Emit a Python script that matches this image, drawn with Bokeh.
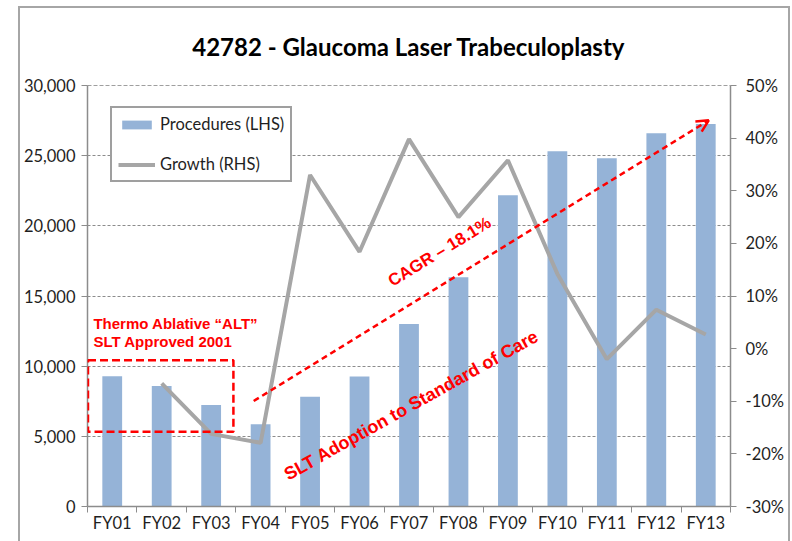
from bokeh.plotting import figure
from bokeh.models import (Range1d, LinearAxis, FixedTicker, NumeralTickFormatter,
                          BoxAnnotation, Arrow, OpenHead, Legend, LegendItem,
                          ColumnDataSource, Span)
from bokeh.core.properties import value
from bokeh.embed import file_html
from bokeh.resources import INLINE

# ---------------- data ----------------
categories = ["FY01", "FY02", "FY03", "FY04", "FY05", "FY06", "FY07",
              "FY08", "FY09", "FY10", "FY11", "FY12", "FY13"]
procedures = [9290, 8580, 7230, 5860, 7820, 9270, 13000,
              16330, 22180, 25320, 24820, 26600, 27260]
growth_categories = categories[1:]
growth = [-0.066, -0.162, -0.179, 0.33, 0.184, 0.398,
          0.25, 0.358, 0.142, -0.02, 0.074, 0.027]
left_ticks = [0, 5000, 10000, 15000, 20000, 25000, 30000]
right_ticks = [-0.3, -0.2, -0.1, 0.0, 0.1, 0.2, 0.3, 0.4, 0.5]

pos = {c: i + 1 for i, c in enumerate(categories)}
bar_src = ColumnDataSource(dict(x=[pos[c] for c in categories], top=procedures))
line_src = ColumnDataSource(dict(x=[pos[c] for c in growth_categories], y=growth))

FONT = "Lato"
TXT = "#1F1F1F"
AXC = "#8C8C8C"
FS = "16.5px"

p = figure(width=772, height=535, output_backend="svg", toolbar_location=None,
           x_range=Range1d(0.5, len(categories) + 0.5),
           y_range=Range1d(0, 30000),
           min_border_left=62, min_border_right=62,
           min_border_top=75, min_border_bottom=37)
p.margin = (6, 0, 0, 18)
p.styles = {"border-top": "2px solid #A6A6A6", "border-left": "2px solid #A6A6A6",
            "border-right": "2px solid #A6A6A6"}
p.outline_line_color = None
p.background_fill_color = "white"
p.border_fill_color = "white"

# title
p.title.text = "42782 - Glaucoma Laser Trabeculoplasty"
p.title.text_font = FONT
p.title.text_font_size = "24px"
p.title.text_font_style = "bold"
p.title.text_color = "#000000"
p.title.align = "center"
p.title.vertical_align = "top"
p.title.standoff = 46

# grid
p.xgrid.grid_line_color = None
p.ygrid.ticker = FixedTicker(ticks=left_ticks[:-1])
p.ygrid.grid_line_color = "#8C8C8C"
p.ygrid.grid_line_dash = "3 2"
p.ygrid.grid_line_width = 1
p.add_layout(Span(location=left_ticks[-1], dimension="width",
                  line_color="#404040", line_width=1, line_dash="4 2"))

# left axis
ya = p.yaxis[0]
ya.ticker = FixedTicker(ticks=left_ticks)
ya.formatter = NumeralTickFormatter(format="0,0")
ya.axis_line_color = AXC
ya.axis_line_width = 1.5
ya.major_tick_line_color = AXC
ya.major_tick_in = 0
ya.major_tick_out = 6
ya.minor_tick_line_color = None
ya.major_label_text_font = FONT
ya.major_label_text_font_size = FS
ya.major_label_text_color = TXT
ya.major_label_standoff = 6

# right axis
p.extra_y_ranges = {"pct": Range1d(-0.3, 0.5)}
ra = LinearAxis(y_range_name="pct", ticker=FixedTicker(ticks=right_ticks),
                formatter=NumeralTickFormatter(format="0%"))
ra.axis_line_color = AXC
ra.axis_line_width = 1.5
ra.major_tick_line_color = AXC
ra.major_tick_in = 0
ra.major_tick_out = 6
ra.minor_tick_line_color = None
ra.major_label_text_font = FONT
ra.major_label_text_font_size = FS
ra.major_label_text_color = TXT
ra.major_label_standoff = 9
p.add_layout(ra, "right")

# x axis: labels at centres, ticks between categories
xa = p.xaxis[0]
xa.ticker = FixedTicker(ticks=[pos[c] for c in categories],
                        minor_ticks=[pos[c] - 0.5 for c in categories] + [len(categories) + 0.5])
xa.major_label_overrides = {pos[c]: c for c in categories}
xa.major_tick_line_color = None
xa.minor_tick_line_color = AXC
xa.minor_tick_in = 0
xa.minor_tick_out = 6
xa.axis_line_color = AXC
xa.axis_line_width = 1.5
xa.major_label_text_font = FONT
xa.major_label_text_font_size = FS
xa.major_label_text_color = TXT
xa.major_label_standoff = 0

# glyphs
bars = p.vbar(x="x", top="top", width=0.4, source=bar_src,
              fill_color="#95B3D7", line_color=None)
ln = p.line(x="x", y="y", source=line_src, y_range_name="pct",
            line_color="#A6A6A6", line_width=4)

# legend
legend = Legend(items=[LegendItem(label="Procedures (LHS)", renderers=[bars]),
                       LegendItem(label="Growth (RHS)", renderers=[ln])],
                location=(23, 324))
legend.label_text_font = FONT
legend.label_text_font_size = FS
legend.label_text_color = TXT
legend.glyph_width = 37
legend.glyph_height = 11
legend.label_height = 20
legend.spacing = 20
legend.padding = 6
legend.label_standoff = 5
legend.border_line_color = "#404040"
legend.border_line_width = 2
legend.background_fill_alpha = 1
legend.margin = 0
p.add_layout(legend, "center")

# annotations
RED = "#FF0000"
p.add_layout(BoxAnnotation(left=0.51, right=3.45, bottom=5320, top=10430,
                           fill_alpha=0, line_color=RED, line_alpha=1.0,
                           line_width=2.5, line_dash="8 4"))
p.add_layout(Arrow(end=OpenHead(line_color=RED, line_width=2.5, size=12),
                   x_start=3.86, y_start=7520, x_end=13.06, y_end=27520,
                   line_color=RED, line_width=2.5, line_dash="6 4"))

p.text(x=[0.62], y=[13050], text=["Thermo Ablative \u201cALT\u201d"],
       text_font=value("Liberation Sans"), text_font_style="bold",
       text_font_size="15px", text_color=RED, text_align="left",
       text_baseline="middle")
p.text(x=[0.62], y=[11770], text=["SLT Approved 2001"],
       text_font=value("Liberation Sans"), text_font_style="bold",
       text_font_size="15px", text_color=RED, text_align="left",
       text_baseline="middle")
p.text(x=[7.62], y=[18150], text=["CAGR \u2013 18.1%"], angle=0.55,
       text_font=value("Liberation Sans"), text_font_style="bold",
       text_font_size="17px", text_color=RED, text_align="center",
       text_baseline="middle")
p.text(x=[7.05], y=[7230], text=["SLT Adoption to Standard of Care"], angle=0.51,
       text_font=value("Liberation Sans"), text_font_style="bold",
       text_font_size="18px", text_color=RED, text_align="center",
       text_baseline="middle")

open("out.html", "w").write(file_html(p, INLINE))
